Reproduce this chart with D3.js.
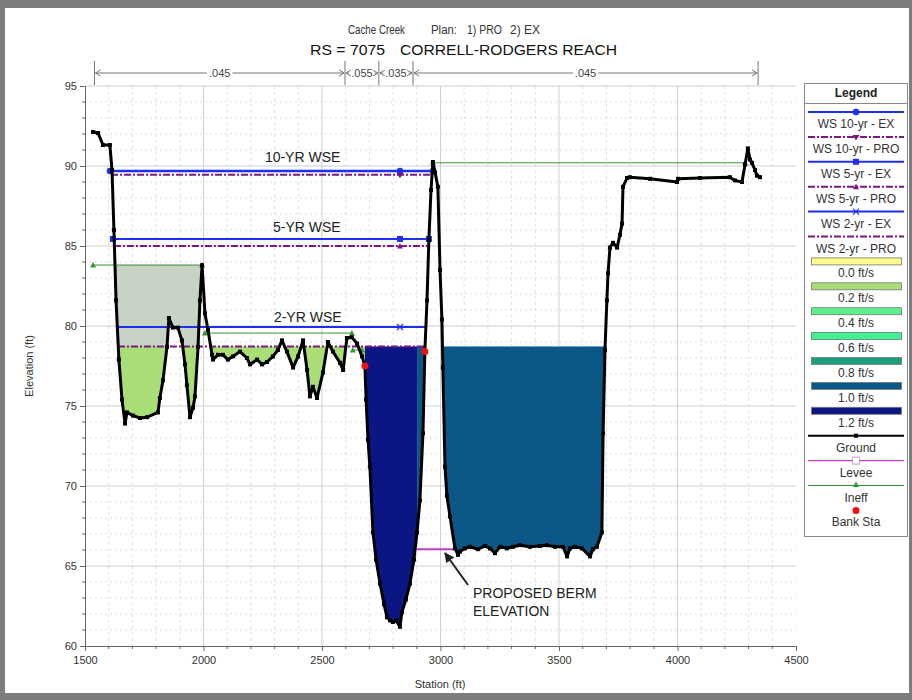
<!DOCTYPE html>
<html>
<head>
<meta charset="utf-8">
<script src="https://cdn.jsdelivr.net/npm/d3@7"></script>
<style>
body { margin: 0; background: #fff; }
svg { display: block; font-family: Arial, "Liberation Sans", sans-serif; }
</style>
</head>
<body>
<script>
// ground profile (station ft, elevation ft)
var groundSta = [1534, 1555, 1576, 1605, 1614, 1622, 1631, 1643, 1656, 1669, 1677, 1703, 1732, 1762, 1808, 1816, 1829, 1846, 1854, 1871,
  1892, 1909, 1922, 1930, 1943, 1956, 1964, 1977, 1985, 1994, 2006, 2019, 2036, 2040, 2061, 2082, 2103, 2124, 2154, 2183,
  2196, 2226, 2247, 2268, 2293, 2314, 2331, 2352, 2378, 2399, 2420, 2437, 2449, 2462, 2479, 2504, 2525, 2546, 2576, 2589,
  2605, 2626, 2648, 2669, 2681, 2686, 2694, 2702, 2715, 2728, 2745, 2762, 2774, 2787, 2799, 2812, 2829, 2837, 2854, 2871,
  2888, 2901, 2913, 2926, 2934, 2943, 2951, 2960, 2968, 2977, 2989, 2998, 3006, 3010, 3019, 3027, 3040, 3061, 3074, 3082,
  3103, 3124, 3158, 3188, 3209, 3230, 3251, 3280, 3306, 3335, 3377, 3420, 3449, 3483, 3517, 3534, 3546, 3567, 3597, 3631,
  3643, 3660, 3681, 3686, 3694, 3702, 3707, 3715, 3728, 3745, 3757, 3766, 3770, 3787, 3799, 3884, 3998, 4002, 4095, 4221,
  4242, 4272, 4285, 4297, 4306, 4314, 4327, 4335, 4348];
var groundElev = [92.13, 92.06, 91.31, 91.31, 89.75, 86.0, 81.6, 77.9, 75.4, 73.9, 74.6, 74.4, 74.25, 74.3, 74.6, 75.5, 76.6, 78.7, 80.5, 79.9,
  79.9, 79.1, 77.6, 76.3, 74.3, 74.9, 75.6, 78.7, 81.6, 83.8, 80.8, 79.75, 78.2, 77.9, 78.2, 78.2, 77.9, 78.1, 78.4, 78.0,
  77.6, 77.9, 77.6, 77.75, 78.1, 78.5, 79.1, 78.4, 77.4, 78.1, 79.1, 77.25, 75.6, 76.2, 75.5, 77.1, 79.0, 78.4, 77.7, 77.25,
  79.25, 79.3, 78.9, 78.1, 77.5, 75.4, 72.9, 71.2, 67.1, 65.4, 63.9, 62.6, 61.8, 61.6, 61.5, 61.6, 61.2, 62.1, 62.9, 63.9,
  65.4, 67.1, 69.1, 73.3, 78.4, 81.6, 85.4, 88.5, 90.25, 89.6, 88.7, 83.5, 80.4, 77.4, 71.2, 69.4, 68.1, 66.1, 65.7, 65.9,
  66.1, 66.2, 66.05, 66.25, 66.1, 65.8, 66.2, 66.1, 66.2, 66.3, 66.2, 66.25, 66.3, 66.2, 66.2, 65.6, 66.1, 66.2, 66.1, 65.6,
  66.05, 66.2, 67.1, 73.3, 78.5, 81.6, 83.3, 84.9, 85.2, 84.9, 85.7, 86.4, 88.7, 89.25, 89.3, 89.2, 89.0, 89.2, 89.25, 89.3,
  89.1, 89.0, 90.1, 91.1, 90.4, 90.2, 89.75, 89.4, 89.3];

// water surface profiles
var wsNames = ["WS 10-yr - EX", "WS 10-yr - PRO", "WS 5-yr - EX", "WS 5-yr - PRO", "WS 2-yr - EX", "WS 2-yr - PRO"];
var wsElev = [89.69, 89.45, 85.44, 85.0, 79.94, 78.72];
var wsStart = [1605, 1610, 1618, 1622, 1635, 1639];
var wsEnd = [2968, 2968, 2951, 2951, 2943, 2934];
var wsMarkSta = 2829;

// velocity legend
var velLabels = ["0.0 ft/s", "0.2 ft/s", "0.4 ft/s", "0.6 ft/s", "0.8 ft/s", "1.0 ft/s", "1.2 ft/s"];
var velColors = ["#fffb8c", "#a9de76", "#5cf08a", "#3ef290", "#1c9f7c", "#0b5786", "#0c1584"];

// 2-yr PRO flow area, split by velocity
var fillFrom = [1630, 2681, 2901, 3006];
var fillTo = [2681, 2901, 2934, 3702];
var fillVel = [1, 6, 5, 5];

// ineffective flow areas
var ineffFrom = [1534, 2006, 2630, 2968];
var ineffTo = [1994, 2626, 2669, 4285];
var ineffElev = [83.81, 79.56, 78.5, 90.2];

var bankSta = [2681, 2934];
var bankElev = [77.5, 78.4];

var leveeSta = [2901, 3061];
var leveeElev = 66.05;

// Manning's n breaks
var nSta = [1540, 2597, 2740, 2884, 4340];
var nVals = [".045", ".055", ".035", ".045"];

var xTicks = [1500, 2000, 2500, 3000, 3500, 4000, 4500];
var yTicks = [60, 65, 70, 75, 80, 85, 90, 95];

var W = 912, H = 700;
var x = d3.scaleLinear().domain([1500, 4500]).range([85, 796]);
var y = d3.scaleLinear().domain([60, 95]).range([646, 86]);

var svg = d3.select("body").append("svg").attr("width", W).attr("height", H);

// frame
svg.append("rect").attr("width", W).attr("height", H).attr("fill", "#7d7d7d");
svg.append("rect").attr("x", 5).attr("y", 8).attr("width", 904).attr("height", 685).attr("fill", "#fff");

svg.append("clipPath").attr("id", "plotclip").append("rect")
  .attr("x", 85).attr("y", 86).attr("width", 711).attr("height", 560);

// grid
var grid = svg.append("g");
grid.selectAll(".vmin").data(d3.range(1600, 4500, 100)).enter().append("line")
  .attr("x1", d => x(d)).attr("x2", d => x(d)).attr("y1", 86).attr("y2", 646)
  .attr("stroke", d => d % 500 === 0 ? "#cfcfcf" : "#e2e2e2")
  .attr("stroke-dasharray", d => d % 500 === 0 ? null : "3,3");
grid.selectAll(".hmin").data(d3.range(61, 96, 1)).enter().append("line")
  .attr("x1", 85).attr("x2", 796).attr("y1", d => y(d)).attr("y2", d => y(d))
  .attr("stroke", d => d % 5 === 0 ? "#cfcfcf" : "#dcdcdc")
  .attr("stroke-dasharray", d => d % 5 === 0 ? null : "2,3");

// axes
var yAxis = svg.append("g").attr("transform", "translate(85,0)")
  .call(d3.axisLeft(y).tickValues(yTicks).tickSize(5).tickPadding(3).tickFormat(d3.format("d")));
var xAxis = svg.append("g").attr("transform", "translate(0,646)")
  .call(d3.axisBottom(x).tickValues(xTicks).tickSize(5).tickPadding(5).tickFormat(d3.format("d")));
[yAxis, xAxis].forEach(function (a) {
  a.select(".domain").attr("stroke", "#666");
  a.selectAll(".tick line").attr("stroke", "#666");
  a.selectAll("text").attr("font-size", 11).attr("fill", "#333").attr("font-family", "Arial, Liberation Sans, sans-serif");
});
svg.append("g").selectAll("line").data(d3.range(61, 95, 1).filter(d => d % 5 !== 0)).enter().append("line")
  .attr("x1", 82).attr("x2", 85).attr("y1", d => y(d)).attr("y2", d => y(d)).attr("stroke", "#666");
svg.append("g").selectAll("line").data(d3.range(1600, 4500, 100).filter(d => d % 500 !== 0)).enter().append("line")
  .attr("x1", d => x(d)).attr("x2", d => x(d)).attr("y1", 646).attr("y2", 649).attr("stroke", "#666");

svg.append("text").attr("transform", "translate(33,366) rotate(-90)").attr("text-anchor", "middle")
  .attr("font-size", 11).attr("fill", "#333").text("Elevation (ft)");
svg.append("text").attr("x", 440).attr("y", 688).attr("text-anchor", "middle")
  .attr("font-size", 11).attr("fill", "#333").text("Station (ft)");

// titles
var sub = [["Cache Creek", 348, 57], ["Plan:", 431, 26], ["1) PRO", 467, 35], ["2) EX", 510, 30]];
svg.append("g").selectAll("text").data(sub).enter().append("text")
  .attr("x", d => d[1]).attr("y", 34).attr("font-size", 12).attr("fill", "#333")
  .attr("textLength", d => d[2]).attr("lengthAdjust", "spacingAndGlyphs").text(d => d[0]);
var ttl = [["RS = 7075", 310, 75], ["CORRELL-RODGERS REACH", 400, 217]];
svg.append("g").selectAll("text").data(ttl).enter().append("text")
  .attr("x", d => d[1]).attr("y", 55).attr("font-size", 15).attr("fill", "#111")
  .attr("textLength", d => d[2]).attr("lengthAdjust", "spacingAndGlyphs").text(d => d[0]);

// Manning's n bar
var nb = svg.append("g").attr("stroke", "#777").attr("fill", "none");
nSta.forEach(function (s) {
  nb.append("line").attr("x1", x(s)).attr("x2", x(s)).attr("y1", 61).attr("y2", 85);
});
nVals.forEach(function (v, i) {
  var x0 = x(nSta[i]), x1 = x(nSta[i + 1]), cx = (x0 + x1) / 2;
  var t = svg.append("text").attr("x", cx).attr("y", 77).attr("text-anchor", "middle")
    .attr("font-size", 11).attr("fill", "#444").text(v);
  var tw = t.node().getComputedTextLength();
  if (cx - tw / 2 - 2 > x0 + 2) {
    nb.append("line").attr("x1", x0 + 1).attr("x2", cx - tw / 2 - 2).attr("y1", 73).attr("y2", 73);
    nb.append("line").attr("x1", cx + tw / 2 + 2).attr("x2", x1 - 1).attr("y1", 73).attr("y2", 73);
  }
  nb.append("path").attr("d", "M" + (x0 + 6) + ",70L" + (x0 + 1) + ",73L" + (x0 + 6) + ",76");
  nb.append("path").attr("d", "M" + (x1 - 6) + ",70L" + (x1 - 1) + ",73L" + (x1 - 6) + ",76");
});

// helpers
function gAt(s) {
  var i = d3.bisectLeft(groundSta, s);
  if (i <= 0) return groundElev[0];
  if (i >= groundSta.length) return groundElev[groundElev.length - 1];
  var t = (s - groundSta[i - 1]) / (groundSta[i] - groundSta[i - 1]);
  return groundElev[i - 1] + t * (groundElev[i] - groundElev[i - 1]);
}
function slicePts(s0, s1, lev) {
  var raw = [[s0, gAt(s0)]];
  groundSta.forEach(function (s, i) { if (s > s0 && s < s1) raw.push([s, groundElev[i]]); });
  raw.push([s1, gAt(s1)]);
  var pts = [raw[0]];
  for (var i = 1; i < raw.length; i++) {
    var a = raw[i - 1], b = raw[i];
    if ((a[1] - lev) * (b[1] - lev) < 0) {
      var t = (lev - a[1]) / (b[1] - a[1]);
      pts.push([a[0] + t * (b[0] - a[0]), lev]);
    }
    pts.push(b);
  }
  return pts;
}
function poolArea(lev) {
  return d3.area().x(d => x(d[0])).y0(d => y(Math.min(d[1], lev))).y1(y(lev));
}

var plot = svg.append("g").attr("clip-path", "url(#plotclip)");

// ineffective (grey) area on left overbank
plot.append("path").datum(slicePts(1600, 1994, ineffElev[0]))
  .attr("d", poolArea(ineffElev[0])).attr("fill", "#bccbbb").attr("fill-opacity", 0.85);

// flow area coloured by velocity
fillFrom.forEach(function (s0, i) {
  var lev = wsElev[5];
  plot.append("path").datum(slicePts(s0, fillTo[i], lev))
    .attr("d", poolArea(lev)).attr("fill", velColors[fillVel[i]]);
});
plot.append("line").attr("x1", x(3006)).attr("x2", x(3702)).attr("y1", y(wsElev[5])).attr("y2", y(wsElev[5]))
  .attr("stroke", "#6aa8d8").attr("stroke-width", 1);

// water surface lines
var wsColor = ["#1f2ff0", "#7d1780", "#1f2ff0", "#7d1780", "#1f2ff0", "#7d1780"];
wsNames.forEach(function (n, i) {
  var pro = i % 2 === 1;
  plot.append("line").attr("x1", x(wsStart[i])).attr("x2", x(wsEnd[i]))
    .attr("y1", y(wsElev[i])).attr("y2", y(wsElev[i]))
    .attr("stroke", wsColor[i]).attr("stroke-width", i === 0 ? 2.5 : 2)
    .attr("stroke-dasharray", pro ? "7,2,2,2" : null);
});

function marker(g, kind, cx, cy, col) {
  if (kind === "circle") g.append("circle").attr("cx", cx).attr("cy", cy).attr("r", 3.2).attr("fill", col);
  else if (kind === "square") g.append("rect").attr("x", cx - 3).attr("y", cy - 3).attr("width", 6).attr("height", 6).attr("fill", col);
  else if (kind === "down") g.append("path").attr("d", "M" + (cx - 3.5) + "," + (cy - 2) + "L" + (cx + 3.5) + "," + (cy - 2) + "L" + cx + "," + (cy + 3.5) + "Z").attr("fill", col);
  else if (kind === "up") g.append("path").attr("d", "M" + (cx - 3) + "," + (cy + 2.5) + "L" + (cx + 3) + "," + (cy + 2.5) + "L" + cx + "," + (cy - 3) + "Z").attr("fill", col);
  else if (kind === "x") g.append("path").attr("d", "M" + (cx - 3) + "," + (cy - 3) + "L" + (cx + 3) + "," + (cy + 3) + "M" + (cx + 3) + "," + (cy - 3) + "L" + (cx - 3) + "," + (cy + 3)).attr("stroke", col).attr("stroke-width", 1.2);
}
var wsMark = ["circle", "down", "square", "up", "x", null];
wsNames.forEach(function (n, i) {
  if (!wsMark[i]) return;
  var stas = i % 2 === 0 && i < 4 ? [wsStart[i], wsMarkSta, wsEnd[i]] : [wsMarkSta];
  stas.forEach(function (s) { marker(plot, wsMark[i], x(s), y(wsElev[i]), wsColor[i]); });
});

// ineffective flow lines
ineffFrom.forEach(function (s0, i) {
  plot.append("line").attr("x1", x(s0)).attr("x2", x(ineffTo[i])).attr("y1", y(ineffElev[i])).attr("y2", y(ineffElev[i]))
    .attr("stroke", "#3b8f3b").attr("stroke-width", 1);
  [s0, ineffTo[i]].forEach(function (s) { marker(plot, "up", x(s), y(ineffElev[i]), "#2f9a2f"); });
});

// proposed berm (levee)
plot.append("line").attr("x1", x(leveeSta[0])).attr("x2", x(leveeSta[1])).attr("y1", y(leveeElev)).attr("y2", y(leveeElev))
  .attr("stroke", "#c23cc8").attr("stroke-width", 2);

// ground
var gpts = groundSta.map((s, i) => [s, groundElev[i]]);
plot.append("path").datum(gpts)
  .attr("d", d3.line().x(d => x(d[0])).y(d => y(d[1])))
  .attr("fill", "none").attr("stroke", "#000").attr("stroke-width", 3).attr("stroke-linejoin", "round");
plot.selectAll(".gm").data(gpts).enter().append("rect")
  .attr("x", d => x(d[0]) - 2).attr("y", d => y(d[1]) - 2).attr("width", 4).attr("height", 4).attr("fill", "#000");

// bank stations
plot.selectAll(".bk").data(bankSta).enter().append("circle")
  .attr("cx", d => x(d)).attr("cy", (d, i) => y(bankElev[i])).attr("r", 3.5).attr("fill", "#f01010");

// annotations
var noteText = ["10-YR WSE", "5-YR WSE", "2-YR WSE", "PROPOSED BERM", "ELEVATION"];
var noteSta = [2259, 2293, 2297, 3137, 3137];
var noteElev = [90.25, 85.875, 80.25, 63.0, 61.875];
noteText.forEach(function (t, i) {
  svg.append("text").attr("x", x(noteSta[i])).attr("y", y(noteElev[i]))
    .attr("font-size", 14).attr("fill", "#222").text(t);
});
svg.append("defs").append("marker").attr("id", "ah").attr("viewBox", "0 0 10 10")
  .attr("refX", 9).attr("refY", 5).attr("markerWidth", 5).attr("markerHeight", 5).attr("orient", "auto")
  .append("path").attr("d", "M0,0L10,5L0,10Z").attr("fill", "#222");
svg.append("line").attr("x1", x(3116)).attr("y1", y(63.81)).attr("x2", x(3019)).attr("y2", y(65.81))
  .attr("stroke", "#222").attr("stroke-width", 2).attr("marker-end", "url(#ah)");

// legend
var lg = svg.append("g");
lg.append("rect").attr("x", 804.5).attr("y", 83.5).attr("width", 103).attr("height", 453)
  .attr("fill", "#fff").attr("stroke", "#888");
lg.append("line").attr("x1", 805).attr("x2", 907).attr("y1", 103.5).attr("y2", 103.5).attr("stroke", "#888");
lg.append("text").attr("x", 856).attr("y", 97).attr("text-anchor", "middle").attr("font-size", 12)
  .attr("font-weight", "bold").attr("fill", "#222").text("Legend");

var legLabels = wsNames.concat(velLabels, ["Ground", "Levee", "Ineff", "Bank Sta"]);
legLabels.forEach(function (lab, i) {
  var ly = 112 + 24.9 * i;
  var g = lg.append("g");
  if (i < 6) {
    g.append("line").attr("x1", 808).attr("x2", 904).attr("y1", ly).attr("y2", ly)
      .attr("stroke", wsColor[i]).attr("stroke-width", 2).attr("stroke-dasharray", i % 2 ? "7,2,2,2" : null);
    if (wsMark[i]) marker(g, wsMark[i], 856, ly, wsColor[i]);
  } else if (i < 13) {
    g.append("rect").attr("x", 811.5).attr("y", ly - 3.5).attr("width", 90).attr("height", 7)
      .attr("fill", velColors[i - 6]).attr("stroke", "#777").attr("stroke-width", 0.8);
  } else if (lab === "Ground") {
    g.append("line").attr("x1", 808).attr("x2", 904).attr("y1", ly).attr("y2", ly).attr("stroke", "#000").attr("stroke-width", 2);
    g.append("rect").attr("x", 854).attr("y", ly - 2).attr("width", 4).attr("height", 4).attr("fill", "#000");
  } else if (lab === "Levee") {
    g.append("line").attr("x1", 808).attr("x2", 904).attr("y1", ly).attr("y2", ly).attr("stroke", "#c23cc8").attr("stroke-width", 1.2);
    g.append("rect").attr("x", 852.5).attr("y", ly - 3.5).attr("width", 7).attr("height", 7)
      .attr("fill", "#fff").attr("stroke", "#c9a0d8");
  } else if (lab === "Ineff") {
    g.append("line").attr("x1", 808).attr("x2", 904).attr("y1", ly).attr("y2", ly).attr("stroke", "#3b8f3b").attr("stroke-width", 1);
    marker(g, "up", 856, ly - 1, "#2f9a2f");
  } else {
    g.append("circle").attr("cx", 856).attr("cy", ly).attr("r", 3.5).attr("fill", "#f01010");
  }
  g.append("text").attr("x", 856).attr("y", ly + 16).attr("text-anchor", "middle")
    .attr("font-size", 12).attr("fill", "#333").text(lab);
});
</script>
</body>
</html>
